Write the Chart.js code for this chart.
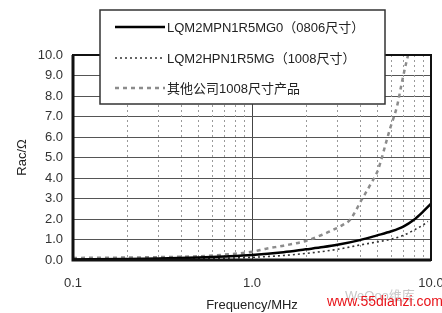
<!DOCTYPE html>
<html>
<head>
<meta charset="utf-8">
<script src="https://cdn.jsdelivr.net/npm/chart.js@4/dist/chart.umd.min.js"></script>
<style>
  body { margin: 0; background: #fff; }
  canvas { display: block; }
</style>
</head>
<body>
<canvas id="racChart" width="442" height="313"></canvas>
<script>
// Rac vs frequency, three inductors
const seriesNames = ['LQM2MPN1R5MG0（0806尺寸）', 'LQM2HPN1R5MG（1008尺寸）', '其他公司1008尺寸产品'];

const freqMP = [0.1, 0.2, 0.3, 0.5, 0.7, 1.0, 1.5, 2.0, 2.5, 3.0, 4.0, 5.0, 6.0, 7.0, 8.0, 9.0, 10.0];
const racMP  = [0.03, 0.05, 0.07, 0.12, 0.17, 0.24, 0.38, 0.52, 0.63, 0.74, 0.97, 1.2, 1.4, 1.63, 1.95, 2.35, 2.75];

const freqHP = [0.1, 0.3, 0.5, 1.0, 1.5, 2.0, 3.0, 4.0, 5.0, 6.0, 7.0, 8.0, 9.0, 9.6];
const racHP  = [0.01, 0.03, 0.06, 0.13, 0.22, 0.32, 0.52, 0.73, 0.88, 1.02, 1.2, 1.45, 1.7, 1.88];

const freqOther = [0.1, 0.2, 0.3, 0.5, 0.7, 1.0, 1.2, 1.5, 2.0, 2.5, 2.84, 3.2, 3.53, 4.1, 4.6, 5.06, 5.68, 5.9, 6.46, 6.89, 7.35, 7.45];
const racOther  = [0.1, 0.12, 0.14, 0.18, 0.26, 0.4, 0.55, 0.7, 0.93, 1.25, 1.47, 1.7, 1.96, 2.94, 3.7, 4.4, 5.9, 6.4, 7.5, 8.7, 9.8, 10.0];

const xMajorTicks = [0.1, 1, 10];
const xMinorTicks = [0.2, 0.3, 0.4, 0.5, 0.6, 0.7, 0.8, 0.9, 2, 3, 4, 5, 6, 7, 8, 9];
const xTickLabels = ['0.1', '1.0', '10.0'];
const yTicks = [0, 1, 2, 3, 4, 5, 6, 7, 8, 9, 10];

function toPoints(xs, ys) {
    return xs.map((x, i) => ({ x: x, y: ys[i] }));
}

const FONT = 'Liberation Sans, Arial, "Noto Sans CJK SC", sans-serif';

// dotted minor grid, chart frame, legend box and watermark
const decorPlugin = {
    id: 'decor',
    beforeDatasetsDraw(chart) {
        const ctx = chart.ctx;
        const area = chart.chartArea;
        const xs = chart.scales.x;
        ctx.save();
        ctx.strokeStyle = '#9a9a9a';
        ctx.lineWidth = 1;
        ctx.setLineDash([2, 3]);
        xMinorTicks.forEach(v => {
            const px = Math.round(xs.getPixelForValue(v)) + 0.5;
            ctx.beginPath();
            ctx.moveTo(px, area.top);
            ctx.lineTo(px, area.bottom);
            ctx.stroke();
        });
        ctx.restore();
    },
    afterDraw(chart) {
        const ctx = chart.ctx;
        const area = chart.chartArea;
        ctx.save();
        // frame
        ctx.strokeStyle = '#111';
        ctx.lineWidth = 2;
        ctx.strokeRect(area.left, area.top, area.right - area.left, area.bottom - area.top);
        ctx.lineWidth = 3;
        ctx.beginPath();
        ctx.moveTo(area.left, area.top);
        ctx.lineTo(area.left, area.bottom);
        ctx.lineTo(area.right, area.bottom);
        ctx.stroke();

        // legend box
        const bx = 100, by = 10, bw = 285, bh = 94;
        ctx.fillStyle = '#fff';
        ctx.fillRect(bx, by, bw, bh);
        ctx.strokeStyle = '#333';
        ctx.lineWidth = 1.5;
        ctx.strokeRect(bx, by, bw, bh);
        const rows = [27, 58, 88];
        chart.data.datasets.forEach((ds, i) => {
            ctx.strokeStyle = ds.borderColor;
            ctx.lineWidth = ds.borderWidth;
            ctx.setLineDash(ds.borderDash || []);
            ctx.beginPath();
            ctx.moveTo(115, rows[i]);
            ctx.lineTo(165, rows[i]);
            ctx.stroke();
            ctx.setLineDash([]);
            ctx.fillStyle = '#222';
            ctx.font = '13px ' + FONT;
            ctx.textBaseline = 'middle';
            ctx.textAlign = 'left';
            ctx.fillText(ds.label, 167, rows[i] + 1);
        });

        // watermark
        ctx.font = '13px ' + FONT;
        ctx.fillStyle = '#c8c8c8';
        ctx.textAlign = 'left';
        ctx.textBaseline = 'alphabetic';
        ctx.fillText('WeQoo维库', 345, 300);
        ctx.font = '14px ' + FONT;
        ctx.fillStyle = '#e8141a';
        ctx.fillText('www.55dianzi.com', 327, 306);
        ctx.restore();
    }
};

const ctx = document.getElementById('racChart').getContext('2d');
const racChart = new Chart(ctx, {
    type: 'line',
    data: {
        datasets: [{
            label: seriesNames[0],
            data: toPoints(freqMP, racMP),
            borderColor: '#000',
            borderWidth: 2.5,
            pointRadius: 0,
            cubicInterpolationMode: 'monotone'
        }, {
            label: seriesNames[1],
            data: toPoints(freqHP, racHP),
            borderColor: '#333',
            borderWidth: 1.6,
            borderDash: [2, 3],
            pointRadius: 0,
            cubicInterpolationMode: 'monotone'
        }, {
            label: seriesNames[2],
            data: toPoints(freqOther, racOther),
            borderColor: '#8c8c8c',
            borderWidth: 2.5,
            borderDash: [4, 4],
            pointRadius: 0,
            cubicInterpolationMode: 'monotone'
        }]
    },
    options: {
        responsive: false,
        animation: false,
        layout: { padding: { top: 55, right: 11, left: 0, bottom: 0 } },
        plugins: {
            legend: { display: false },
            tooltip: { enabled: false }
        },
        scales: {
            x: {
                type: 'logarithmic',
                min: 0.1,
                max: 10,
                afterBuildTicks(scale) {
                    scale.ticks = xMajorTicks.map(v => ({ value: v }));
                },
                afterFit(scale) {
                    scale.height = 53;
                    scale.paddingRight = 0;
                    scale.paddingLeft = 0;
                },
                ticks: {
                    autoSkip: false,
                    maxRotation: 0,
                    color: '#333',
                    font: { size: 13, family: FONT },
                    padding: 16,
                    callback: (v, i) => xTickLabels[i]
                },
                grid: { color: '#444', lineWidth: 1, drawTicks: false },
                border: { display: false },
                title: {
                    display: true,
                    text: 'Frequency/MHz',
                    color: '#222',
                    font: { size: 13, family: FONT },
                    padding: { top: 4, bottom: 0 }
                }
            },
            y: {
                min: 0,
                max: 10,
                afterBuildTicks(scale) {
                    scale.ticks = yTicks.map(v => ({ value: v }));
                },
                afterFit(scale) { scale.width = 73; },
                ticks: {
                    color: '#333',
                    font: { size: 13, family: FONT },
                    padding: 10,
                    callback: v => v.toFixed(1)
                },
                grid: { color: '#555', lineWidth: 1, drawTicks: false },
                border: { display: false },
                title: {
                    display: true,
                    text: 'Rac/Ω',
                    color: '#222',
                    font: { size: 13, family: FONT },
                    padding: { top: 15, bottom: 4 }
                }
            }
        }
    },
    plugins: [decorPlugin]
});
</script>
</body>
</html>
